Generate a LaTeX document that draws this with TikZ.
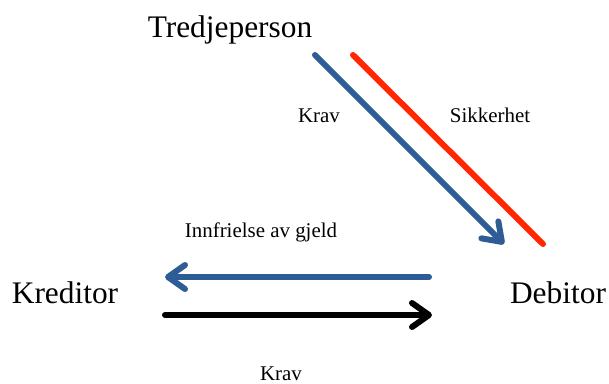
\documentclass[tikz,border=0pt]{standalone}
\usepackage{fontspec}
\setmainfont{Liberation Serif}
\usetikzlibrary{arrows.meta}
\definecolor{kravblue}{RGB}{46,93,150}
\definecolor{sikred}{RGB}{255,38,0}
\tikzset{
  big/.style={font=\fontsize{31.5}{36}\selectfont,anchor=base,inner sep=1bp},
  small/.style={font=\fontsize{21}{24}\selectfont,anchor=base,inner sep=1bp},
  skygge/.style={preaction={draw=black!16,transform canvas={xshift=1bp,yshift=-2.5bp}}},
  pil/.style={line width=\lw,skygge,-{Straight Barb[length=17bp,width=24bp,round]}}
}
\begin{document}
\begin{tikzpicture}[line join = round, line cap = round, x=1bp, y=-1bp]
			\def\lw{6bp}
			\useasboundingbox (0,0) rectangle (609,383);
			\node[big] (tredje) at (230,37) {Tredjeperson};
			\node[big] (kreditor) at (65,303) {Kreditor};
			\node[big] (debitor) at (558,303) {Debitor};
			\node[small] (krav1) at (319,122) {Krav};
			\node[small] (sikkerhet) at (490,122) {Sikkerhet};
			\node[small] (innfrielse) at (261,237) {Innfrielse av gjeld};
			\node[small] (krav2) at (281,380) {Krav};
			\coordinate (ta) at (315,55);
			\coordinate (tb) at (504,244);
			\coordinate (sa) at (353,55);
			\coordinate (sb) at (543,244);
			\coordinate (da) at (429,277);
			\coordinate (ka) at (165,277);
			\coordinate (kb) at (165,315);
			\coordinate (db) at (432,315);
			\draw[line width=\lw,sikred,skygge] (sa)--(sb);
			\draw[pil,kravblue] (ta)--(tb);
			\draw[pil,kravblue] (da)--(ka);
			\draw[pil,black] (kb)--(db);
	\end{tikzpicture}
\end{document}
